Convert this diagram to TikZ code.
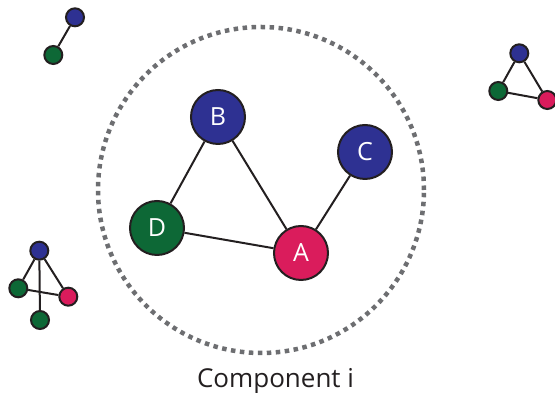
\documentclass[tikz,border=0pt]{standalone}
\usepackage{fontspec}
\setmainfont{Open Sans}
\definecolor{nblue}{HTML}{2E3192}
\definecolor{ngreen}{HTML}{0D6836}
\definecolor{npink}{HTML}{DA1C5C}
\definecolor{nline}{HTML}{231F20}
\definecolor{dotgray}{HTML}{6D6E71}
\begin{document}
\begin{tikzpicture}[x=1pt,y=1pt,
  big/.style={circle,draw=nline,line width=2pt,minimum size=54pt,inner sep=0pt,text=white,font=\fontsize{25}{29}\selectfont},
  small/.style={circle,draw=nline,line width=2pt,minimum size=18pt,inner sep=0pt},
  edge/.style={draw=nline,line width=2pt},
  sedge/.style={draw=nline,line width=2pt}]
\useasboundingbox (0,0) rectangle (555,393);
% dotted component circle
\node[circle,minimum size=326pt,inner sep=0pt,draw=dotgray,line width=4.5pt,dash pattern=on 4.5pt off 4.5pt] (comp) at (261,203) {};
% main graph
\node[big,fill=nblue] (B) at (218,276) {B};
\node[big,fill=nblue] (C) at (365,241) {C};
\node[big,fill=ngreen] (D) at (157,165) {D};
\node[big,fill=npink] (A) at (301,140) {A};
\draw[edge] (B) -- (D);
\draw[edge] (B) -- (A);
\draw[edge] (D) -- (A);
\draw[edge] (C) -- (A);
% top-left
\node[small,fill=nblue] (tlb) at (75,375.7) {};
\node[small,fill=ngreen] (tlg) at (53.3,338) {};
\draw[sedge] (tlb) -- (tlg);
% top-right
\node[small,fill=nblue] (trb) at (519.3,339.7) {};
\node[small,fill=ngreen] (trg) at (498.3,302) {};
\node[small,fill=npink] (trp) at (547.3,293) {};
\draw[sedge] (trb) -- (trg);
\draw[sedge] (trb) -- (trp);
\draw[sedge] (trg) -- (trp);
% bottom-left
\node[small,fill=nblue] (blb) at (39.3,142.3) {};
\node[small,fill=ngreen] (blg) at (18.3,104.7) {};
\node[small,fill=npink] (blp) at (68.3,96.3) {};
\node[small,fill=ngreen] (blh) at (40,73) {};
\draw[sedge] (blb) -- (blg);
\draw[sedge] (blb) -- (blp);
\draw[sedge] (blb) -- (blh);
\draw[sedge] (blg) -- (blp);
% label
\node[anchor=base,font=\fontsize{26}{30}\selectfont,text=nline,inner sep=0pt] (lbl) at (275.5,5) {Component i};
\end{tikzpicture}
\end{document}
